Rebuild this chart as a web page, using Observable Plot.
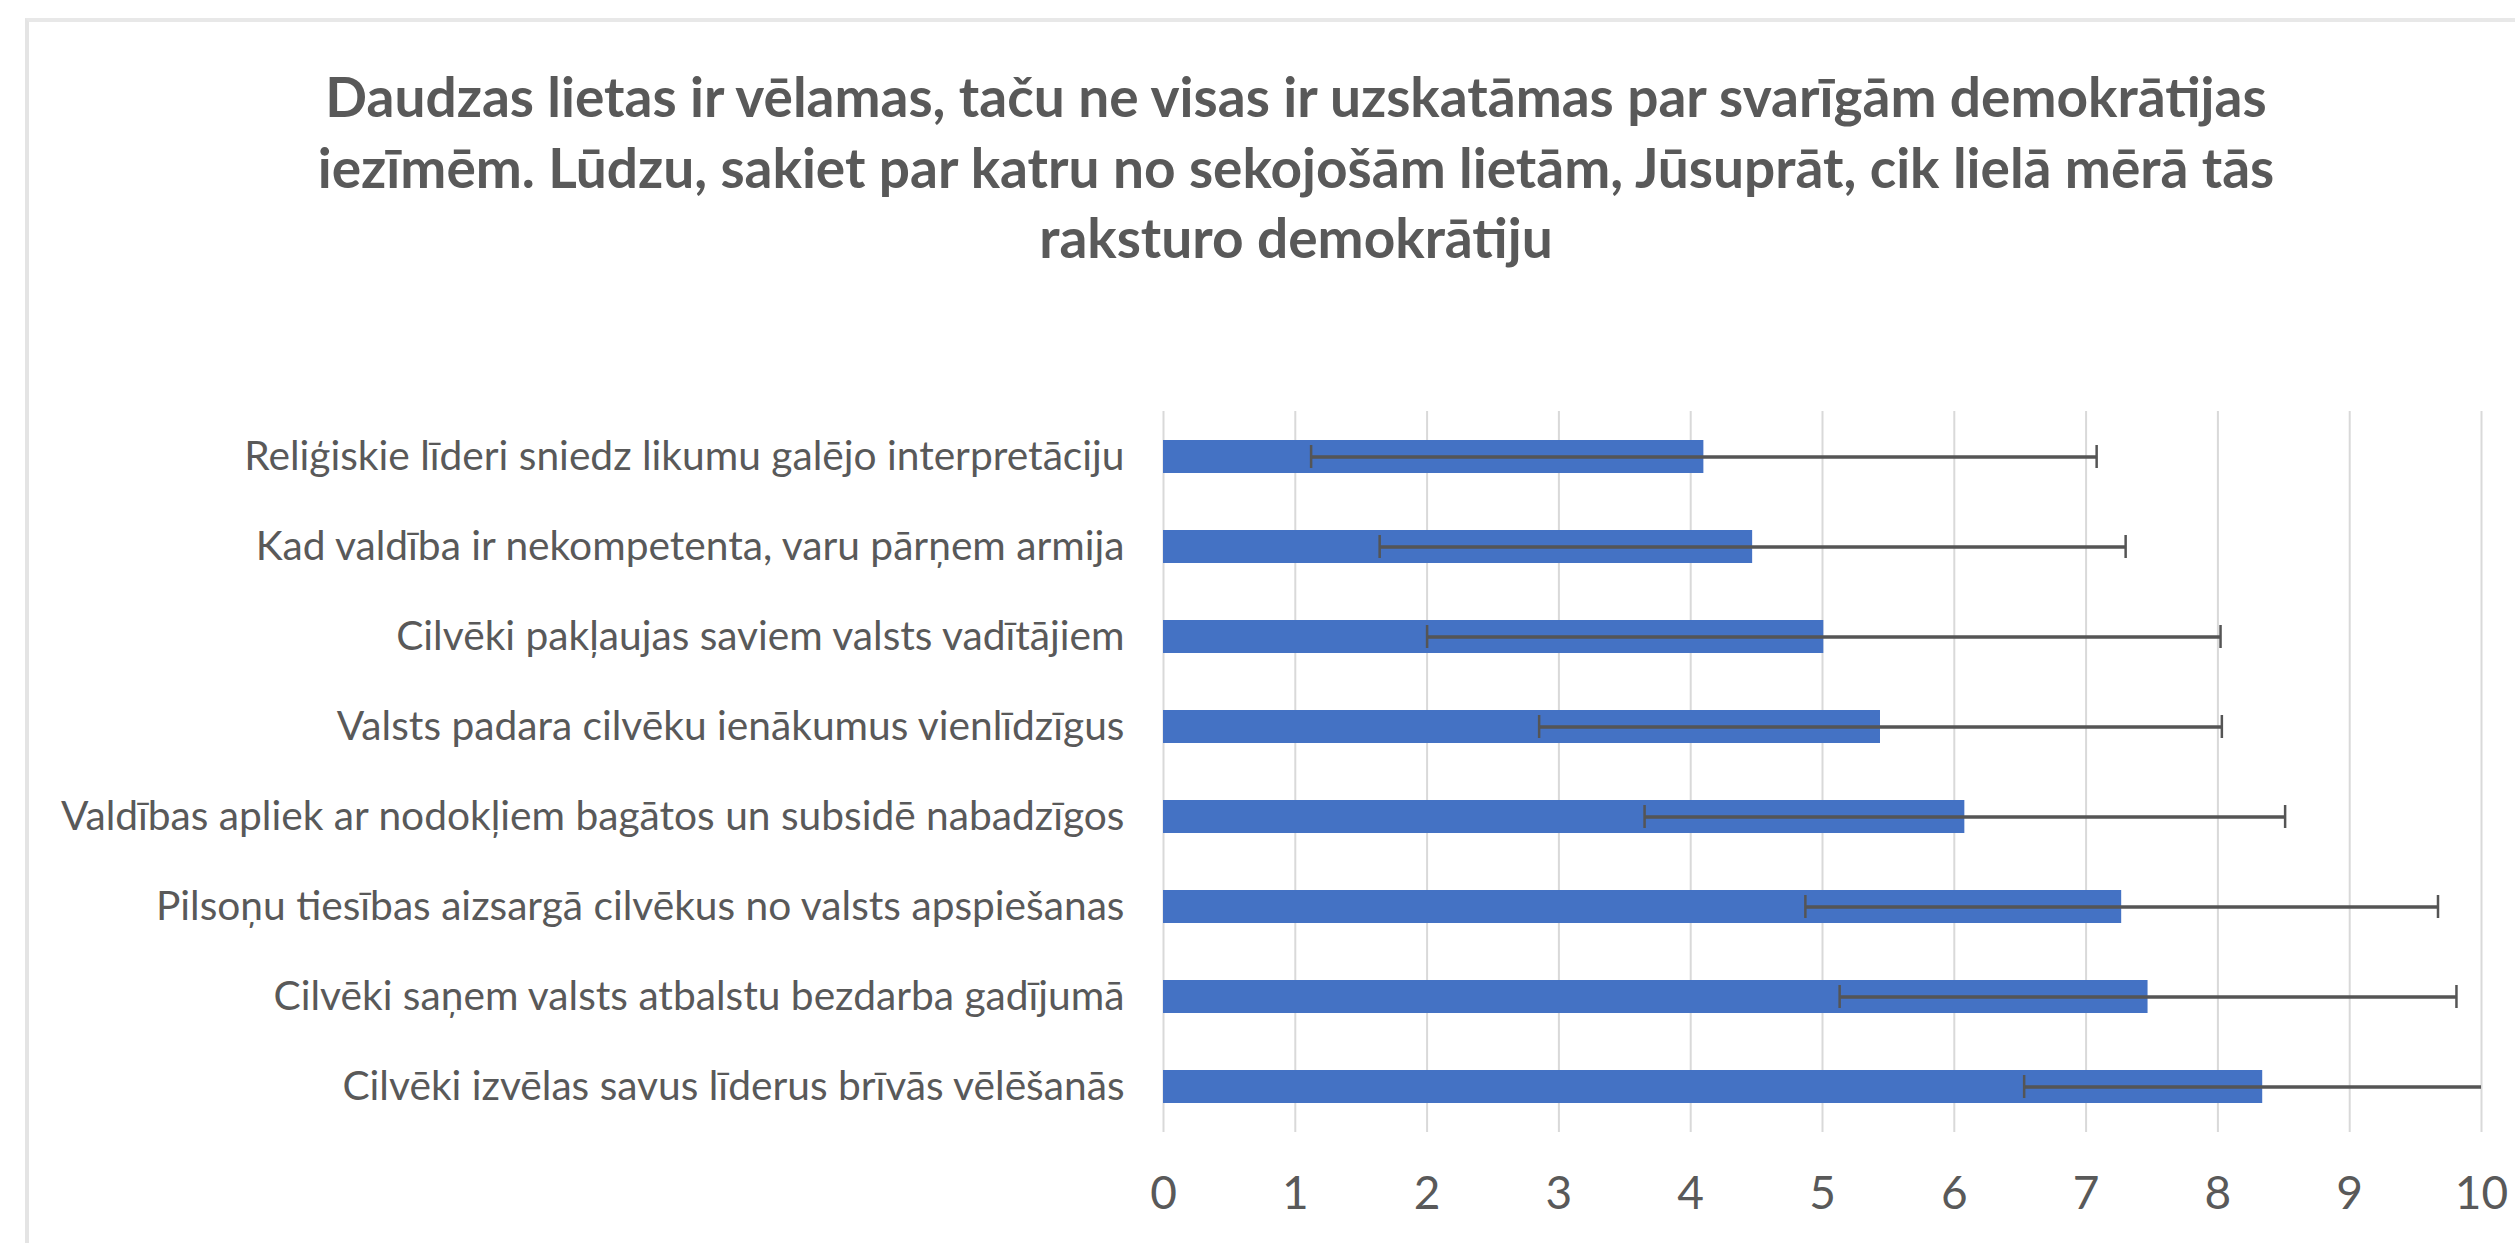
<!DOCTYPE html>
<html>
<head>
<meta charset="utf-8">
<script src="https://cdn.jsdelivr.net/npm/d3@7"></script>
<script src="https://cdn.jsdelivr.net/npm/@observablehq/plot@0.6"></script>
<style>
  html, body { margin: 0; padding: 0; background: #fff; }
  #page { position: relative; width: 2515px; height: 1243px; overflow: hidden; }
  #frame { position: absolute; left: 25px; top: 18px; width: 2600px; height: 1300px;
           border-left: 4px solid #e4e4e4; border-top: 4px solid #e8e8e8; box-sizing: border-box; }
  #title { position: relative; width: 2515px; height: 300px; box-sizing: border-box;
           padding-top: 61px; padding-left: 77px; text-align: center;
           font-family: Lato, sans-serif; font-weight: 700; font-size: 55px; line-height: 70.5px; color: #595959; }
  #chart { position: relative; }
</style>
</head>
<body>
<div id="page">
  <div id="frame"></div>
  <div id="title"></div>
  <div id="chart"></div>
</div>
<script>
const titleLines = [
  "Daudzas lietas ir vēlamas, taču ne visas ir uzskatāmas par svarīgām demokrātijas",
  "iezīmēm. Lūdzu, sakiet par katru no sekojošām lietām, Jūsuprāt, cik lielā mērā tās",
  "raksturo demokrātiju"
];
const categories = [
  "Reliģiskie līderi sniedz likumu galējo interpretāciju",
  "Kad valdība ir nekompetenta, varu pārņem armija",
  "Cilvēki pakļaujas saviem valsts vadītājiem",
  "Valsts padara cilvēku ienākumus vienlīdzīgus",
  "Valdības apliek ar nodokļiem bagātos un subsidē nabadzīgos",
  "Pilsoņu tiesības aizsargā cilvēkus no valsts apspiešanas",
  "Cilvēki saņem valsts atbalstu bezdarba gadījumā",
  "Cilvēki izvēlas savus līderus brīvās vēlēšanās"
];
const means = [4.10, 4.47, 5.01, 5.44, 6.08, 7.27, 7.47, 8.34];
const stdDevs = [2.98, 2.83, 3.01, 2.59, 2.43, 2.40, 2.34, 1.81];
const xTicks = [0, 1, 2, 3, 4, 5, 6, 7, 8, 9, 10];

document.getElementById("title").innerHTML = titleLines.join("<br>");

const data = categories.map((c, i) => ({
  cat: c, mean: means[i], lo: means[i] - stdDevs[i], hi: means[i] + stdDevs[i]
}));

const chart = Plot.plot({
  width: 2515,
  height: 943,
  marginTop: 111,
  marginBottom: 111,
  marginLeft: 1163,
  marginRight: 34,
  style: { color: "#595959", fontFamily: "Lato, sans-serif", background: "transparent" },
  x: { domain: [0, 10], ticks: xTicks, label: null },
  y: { domain: categories, paddingInner: 0.633, paddingOuter: 0.3165, label: null },
  marks: [
    Plot.gridX(xTicks, { stroke: "#d9d9d9", strokeOpacity: 1, strokeWidth: 2 }),
    Plot.barX(data, { x: "mean", y: "cat", fill: "#4472C4" }),
    Plot.ruleY(data, { y: "cat", x1: "lo", x2: "hi", stroke: "#555555", strokeWidth: 3.5, clip: true }),
    Plot.tickX(data, { x: "lo", y: "cat", stroke: "#555555", strokeWidth: 2.5, insetTop: 5, insetBottom: 5, clip: true }),
    Plot.tickX(data, { x: "hi", y: "cat", stroke: "#555555", strokeWidth: 2.5, insetTop: 5, insetBottom: 5, clip: true }),
    Plot.axisX({ ticks: xTicks, tickSize: 0, tickPadding: 44, fontSize: 46, label: null, tickFormat: d => String(d) }),
    Plot.axisY({ tickSize: 0, tickPadding: 39, fontSize: 40.7, label: null })
  ]
});
document.getElementById("chart").appendChild(chart);
</script>
</body>
</html>
